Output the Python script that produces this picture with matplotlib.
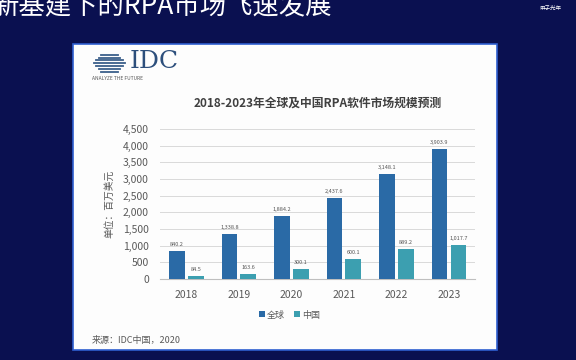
import matplotlib.pyplot as plt
import numpy as np
from matplotlib.patches import Rectangle

plt.rcParams['font.family'] = ['Noto Sans CJK SC', 'DejaVu Sans']

years = ['2018', '2019', '2020', '2021', '2022', '2023']
global_vals = [840.2, 1338.8, 1884.2, 2437.6, 3148.1, 3903.9]
china_vals = [84.5, 163.6, 300.1, 600.1, 889.2, 1017.7]
series_names = ['全球', '中国']
c_global = '#2a6aa6'
c_china = '#3c9fb0'

fig = plt.figure(figsize=(5.76, 3.6), dpi=100)
fig.patch.set_facecolor('#0a1050')

# white card behind everything
fig.patches.append(Rectangle((0.127, 0.028), 0.735, 0.85, transform=fig.transFigure,
                             facecolor='#fdfdfd', edgecolor='#2f5fd0', linewidth=1.2, zorder=-5))

# slide title (clipped at top)
fig.text(-0.012, 0.98, '新基建下的RPA市场飞速发展', color='white', fontsize=19,
         va='center', ha='left')
fig.text(0.955, 0.975, '甲子光年', color='white', fontsize=4, ha='center', va='center')

# IDC logo
for k in range(7):
    w = 0.055 - abs(k - 3) * 0.009
    fig.lines.append(plt.Line2D([0.19 - w / 2, 0.19 + w / 2],
                                [0.848 - k * 0.008] * 2, transform=fig.transFigure,
                                color='#3b5f8a', linewidth=1.3))
fig.text(0.225, 0.83, 'IDC', family='DejaVu Serif', fontsize=18, color='#2d4f7c',
         ha='left', va='center')
fig.text(0.16, 0.782, 'ANALYZE THE FUTURE', fontsize=3.5, color='#555555', ha='left', va='center')

ax = fig.add_axes([0.278, 0.225, 0.547, 0.417])
ax.set_facecolor('none')
x = np.arange(len(years))
b1 = ax.bar(x - 0.18, global_vals, 0.3, color=c_global, label=series_names[0], zorder=3)
b2 = ax.bar(x + 0.18, china_vals, 0.3, color=c_china, label=series_names[1], zorder=3)
for bars in (b1, b2):
    for r in bars:
        ax.text(r.get_x() + r.get_width() / 2, r.get_height() + 120, f'{r.get_height():,.1f}',
                ha='center', va='bottom', fontsize=4, color='#555555')

ax.set_xlim(-0.5, 5.5)
ax.set_ylim(0, 4500)
ax.set_yticks(np.arange(0, 4501, 500))
ax.set_yticklabels([f'{v:,}' for v in range(0, 4501, 500)])
ax.set_xticks(x)
ax.set_xticklabels(years)
ax.tick_params(axis='both', length=0, labelsize=7.5, colors='#595959')
ax.tick_params(axis='x', pad=8)
ax.tick_params(axis='y', pad=8)
ax.grid(axis='y', color='#d9d9d9', linewidth=0.7, zorder=0)
for s in ['top', 'right', 'left']:
    ax.spines[s].set_visible(False)
ax.spines['bottom'].set_color('#bfbfbf')
ax.set_ylabel('单位：百万美元', fontsize=7, color='#595959', labelpad=6)
ax.set_title('2018-2023年全球及中国RPA软件市场规模预测', fontsize=8.5, fontweight='bold',
             color='#404040', pad=16)

fig.legend(handles=[b1, b2], labels=series_names, loc='center', bbox_to_anchor=(0.503, 0.125),
           ncol=2, frameon=False, fontsize=6.5, handlelength=0.6, handleheight=0.6,
           handletextpad=0.3, columnspacing=1.0, labelcolor='#595959')
fig.text(0.16, 0.055, '来源：IDC中国，2020', fontsize=6.5, color='#595959', ha='left', va='center')

fig.savefig('out.png', dpi=100, facecolor=fig.get_facecolor())
